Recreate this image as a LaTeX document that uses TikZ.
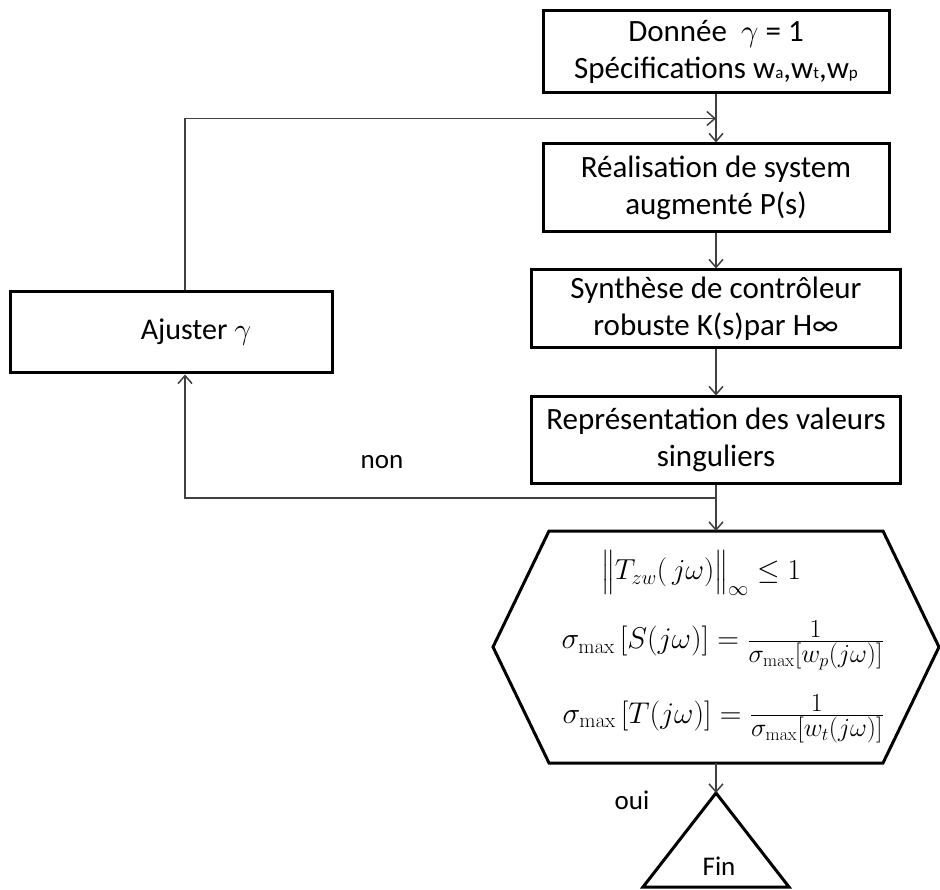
\RequirePackage{fix-cm}
\documentclass[tikz,border=0pt]{standalone}
\usepackage{amsmath}
\usepackage[no-math]{fontspec}
\setmainfont{Carlito}
\usetikzlibrary{arrows.meta,calc}

\tikzset{
  stepbox/.style={draw=black, line width=3pt, align=center, inner sep=0pt,
    font=\fontsize{31}{37}\selectfont},
  flow/.style={draw=black!75, line width=1.5pt,
    -{Straight Barb[length=8pt,width=14pt,line width=1.5pt]}},
  outline/.style={draw=black, line width=3pt, line join=miter},
  lbl/.style={font=\fontsize{27}{30}\selectfont, inner sep=0pt},
  mathlbl/.style={inner sep=0pt, font=\fontsize{30}{36}\selectfont}
}
\newcommand{\subw}[1]{{\fontsize{17}{17}\selectfont #1}}
% fraction terms set a little larger than script size
\newcommand{\fracpart}[1]{\mbox{\fontsize{26}{28}\selectfont$#1$}}

\begin{document}
\begin{tikzpicture}[x=1pt, y=-1pt]
  \useasboundingbox (0,0) rectangle (940,890);

  % main chain of steps
  \node[stepbox, minimum width=346pt, minimum height=82pt] (b1) at (716,52)
    {Donnée~~$\gamma$ = 1\\Spécifications w\subw{a},w\subw{t},w\subw{p}};
  \node[stepbox, minimum width=346pt, minimum height=88pt] (b2) at (716,188)
    {Réalisation de system\\augmenté P(s)};
  \node[stepbox, minimum width=369pt, minimum height=78pt] (b3) at (716,309)
    {Synthèse de contrôleur\\robuste K(s)par H∞};
  \node[stepbox, minimum width=369pt, minimum height=86pt] (b4) at (716,440)
    {Représentation des valeurs\\singuliers};

  % adjustment step on the left
  \node[stepbox, font=\fontsize{30}{34}\selectfont, minimum width=322pt,
    minimum height=81pt] (adj) at (171,332.5)
    {\hspace*{50pt}Ajuster $\gamma$};

  % test block (hexagon)
  \coordinate (hx) at (716,647);
  \coordinate (hexTop) at (716,531);
  \coordinate (hexBot) at (716,763);
  \draw[outline] ($(hx)+(-167,-116)$) -- ($(hx)+(167,-116)$) -- ($(hx)+(223,0)$)
    -- ($(hx)+(167,116)$) -- ($(hx)+(-167,116)$) -- ($(hx)+(-223,0)$) -- cycle;
  \node[mathlbl, font=\fontsize{29}{34}\selectfont] (c1) at (701,573)
    {$\bigl\|T_{zw}(\,j\omega)\bigr\|_{\infty}\le 1$};
  \node[mathlbl, anchor=east] (c2) at (884,645)
    {$\sigma_{\max}\,[S(j\omega)] = \frac{\fracpart{1}}{\fracpart{\sigma_{\max}[w_p(j\omega)]}}$};
  \node[mathlbl, anchor=east] (c3) at (884,719)
    {$\sigma_{\max}\,[T(j\omega)] = \frac{\fracpart{1}}{\fracpart{\sigma_{\max}[w_t(j\omega)]}}$};

  % end block (triangle)
  \coordinate (apex) at (716,793);
  \draw[outline] (apex) -- (643,887) -- (789,887) -- cycle;
  \node[lbl] (fin) at (719,866) {Fin};

  % connectors
  \coordinate (m) at ($(b1.south)!0.5!(b2.north)$);
  \coordinate (j) at (716,498);
  \draw[flow] (b1.south) -- (b2.north);
  \draw[flow] (b2.south) -- (b3.north);
  \draw[flow] (b3.south) -- (b4.north);
  \draw[flow] (b4.south) -- (hexTop);
  \draw[flow] (j) -| ([xshift=14pt]adj.south);
  \draw[flow] ([xshift=14pt]adj.north) |- (m);
  \draw[flow] (hexBot) -- (apex);

  % branch labels
  \node[lbl] (non) at (382,462) {non};
  \node[lbl] (oui) at (632,800) {oui};
\end{tikzpicture}
\end{document}
